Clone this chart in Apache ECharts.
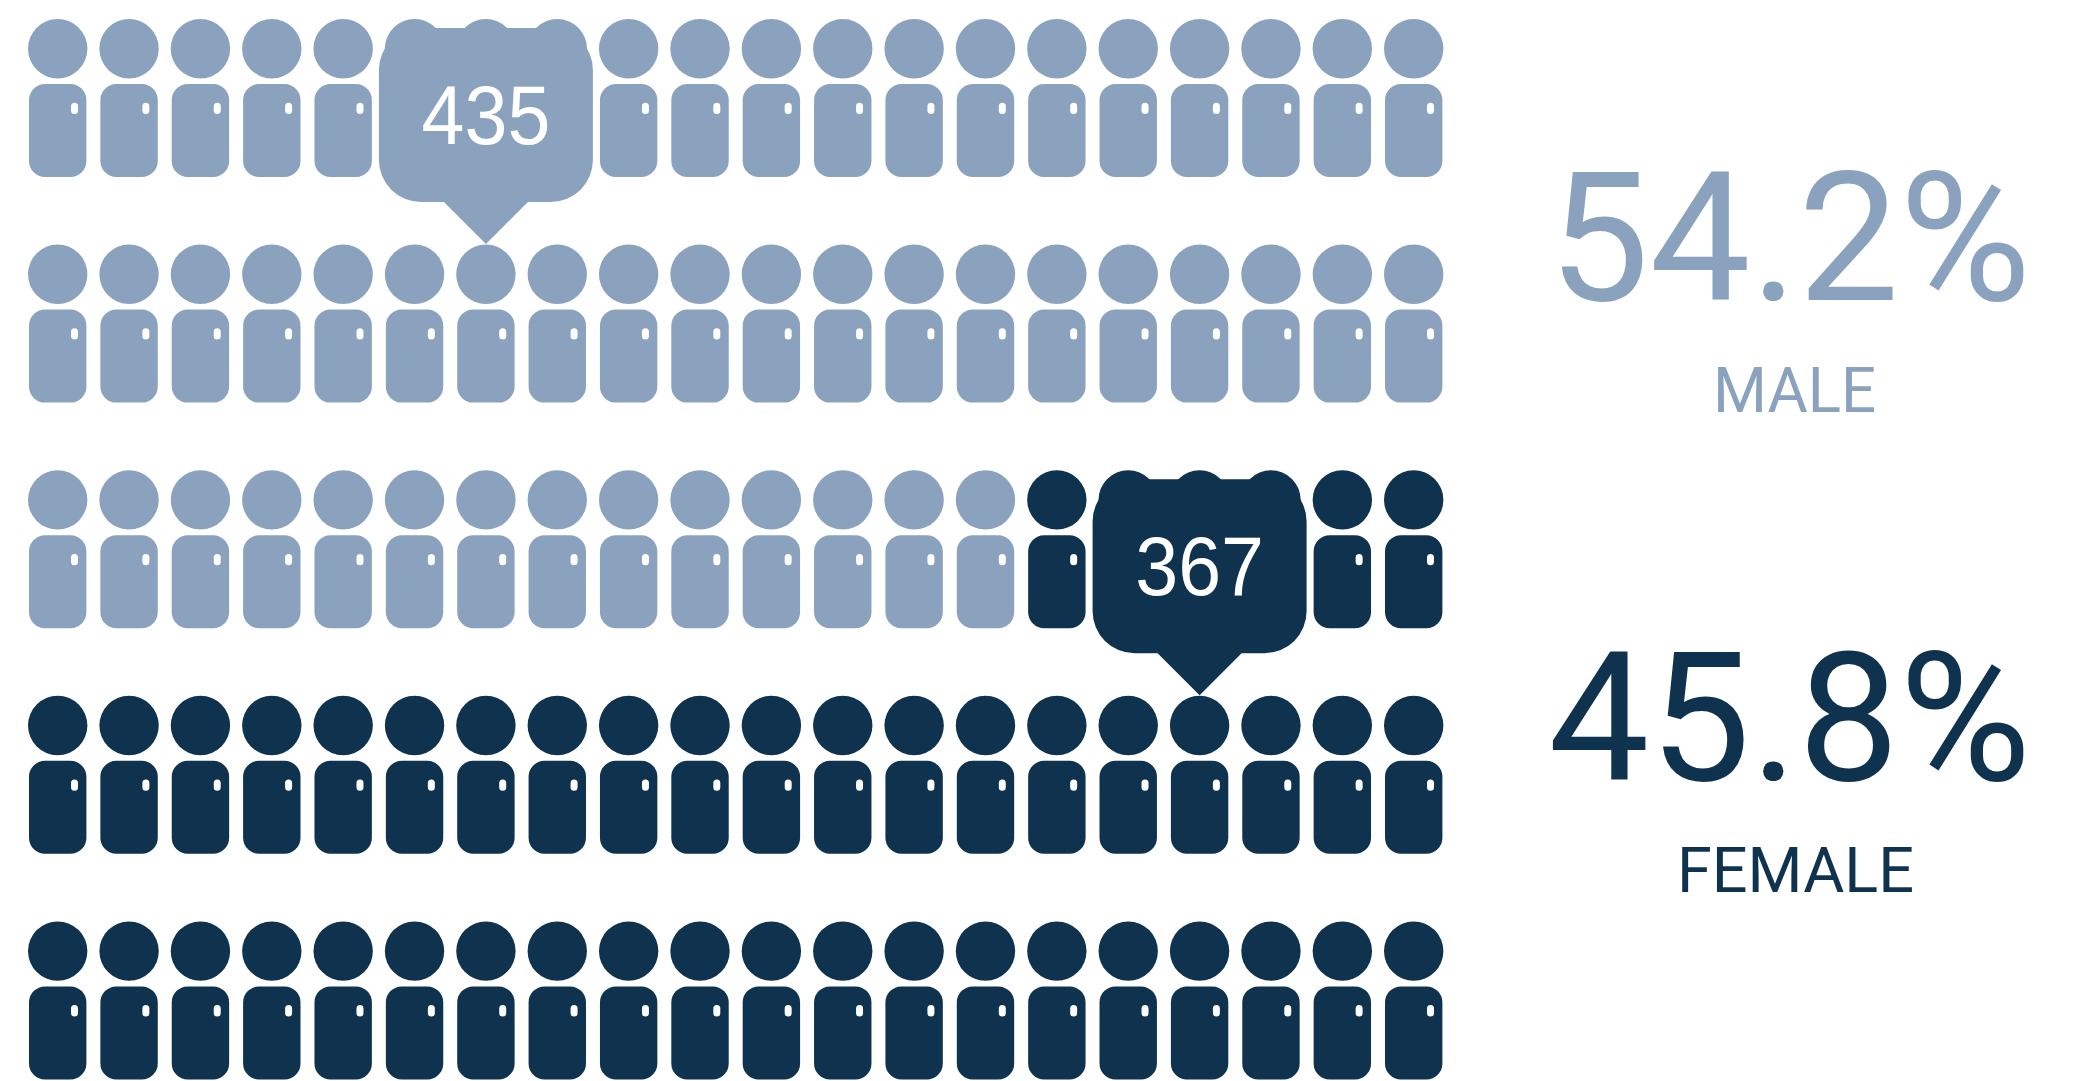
<!DOCTYPE html>
<html>
<head>
<meta charset="utf-8">
<style>html,body{margin:0;padding:0;background:#fff}#c{width:2085px;height:1081px}</style>
<script src="https://cdn.jsdelivr.net/npm/echarts@6/dist/echarts.min.js"></script>
</head>
<body>
<div id="c"></div>
<script>
const categories = ['MALE', 'FEMALE'];
const counts = [435, 367];
const percentLabels = ['54.2%', '45.8%'];
const iconCounts = [54, 46];
const colors = ['#8BA2BF', '#0F324F'];
const calloutCells = [[6, 0], [16, 2]];
const columnCount = 20;
const rowCount = 5;

const personPath = 'path://M0 29.7A29.7 29.7 0 1 1 59.4 29.7A29.7 29.7 0 1 1 0 29.7Z' +
  'M17 65H42.4A16 16 0 0 1 58.4 81V142A16 16 0 0 1 42.4 158H17A16 16 0 0 1 1 142V81A16 16 0 0 1 17 65Z' +
  'M46.5 83.7A3.5 3.5 0 0 0 43 87.2V91.5A3.5 3.5 0 0 0 50 91.5V87.2A3.5 3.5 0 0 0 46.5 83.7Z';
const calloutPath = 'path://M42 0H172A42 42 0 0 1 214 42V132A42 42 0 0 1 172 174H149L107 216L65 174H42A42 42 0 0 1 0 132V42A42 42 0 0 1 42 0Z';

const cells = [];
for (let r = 0; r < rowCount; r++) for (let c = 0; c < columnCount; c++) cells.push([c, r]);

const iconSeries = categories.map((name, i) => {
  const start = iconCounts.slice(0, i).reduce((a, b) => a + b, 0);
  return {
    name, type: 'scatter', z: 2, silent: true, clip: false,
    symbol: personPath, symbolSize: [59.4, 158],
    itemStyle: { color: colors[i], opacity: 1 },
    data: cells.slice(start, start + iconCounts[i])
  };
});
const calloutSeries = categories.map((name, i) => ({
  name: name + ' count', type: 'scatter', z: 5, silent: true, clip: false,
  symbol: calloutPath, symbolSize: [214, 216], symbolOffset: [0, 38],
  itemStyle: { color: colors[i], opacity: 1 },
  data: [calloutCells[i]]
}));
const countSeries = {
  name: 'count labels', type: 'custom', z: 6, silent: true, clip: false,
  data: calloutCells.map((cell, i) => [cell[0], cell[1], counts[i]]),
  renderItem(params, api) {
    const pt = api.coord([api.value(0), api.value(1)]);
    return {
      type: 'text', x: pt[0], y: pt[1] + 23, scaleX: 0.93, silent: true,
      style: {
        text: String(api.value(2)), fill: '#fff', textAlign: 'center', textVerticalAlign: 'middle',
        fontFamily: '"Liberation Sans", Arial, sans-serif', fontSize: 83
      }
    };
  }
};

const textBlocks = [
  { text: percentLabels[0], x: 2031, y: 255, size: 180, sx: 1, color: colors[0] },
  { text: categories[0], x: 1876, y: 396, size: 63, sx: 0.98, color: colors[0] },
  { text: percentLabels[1], x: 2031, y: 735, size: 180, sx: 1, color: colors[1] },
  { text: categories[1], x: 1914, y: 876, size: 63, sx: 1, color: colors[1] }
];

const chart = echarts.init(document.getElementById('c'), null, { renderer: 'canvas' });
chart.setOption({
  animation: false,
  backgroundColor: '#fff',
  grid: { left: 57.7, top: 98, width: 1356, height: 902.4, containLabel: false },
  xAxis: { type: 'value', min: 0, max: columnCount - 1, show: false },
  yAxis: { type: 'value', min: 0, max: rowCount - 1, inverse: true, show: false },
  series: [...iconSeries, ...calloutSeries, countSeries],
  graphic: textBlocks.map(t => ({
    type: 'text', x: t.x, y: t.y, scaleX: t.sx, silent: true,
    style: { text: t.text, fill: t.color, textAlign: 'right', textVerticalAlign: 'middle', fontFamily: 'Roboto, sans-serif', fontWeight: 400, fontSize: t.size }
  }))
});
</script>
</body>
</html>
